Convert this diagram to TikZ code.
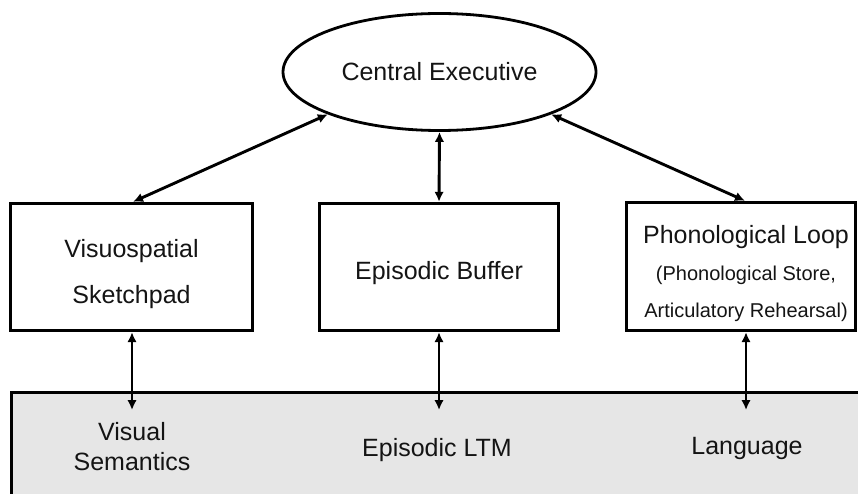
\documentclass[tikz,border=0pt]{standalone}
\usepackage{fontspec}
\setmainfont{Liberation Sans}
\usetikzlibrary{shapes.geometric,arrows.meta}
\definecolor{ltmgray}{RGB}{230,230,230}
\definecolor{inkc}{RGB}{20,20,20}

\begin{document}
\begin{tikzpicture}[x=1pt,y=-1pt,
  big/.style={font=\fontsize{25}{30}\selectfont, text=inkc, inner sep=0pt, anchor=base},
  small/.style={font=\fontsize{20}{24}\selectfont, text=inkc, inner sep=0pt, anchor=base},
  comp/.style={draw, rectangle, line width=3.4pt, inner sep=0pt},
  link/.style={line width=2.9pt, {Latex[length=10pt,width=9.5pt]}-{Latex[length=10pt,width=9.5pt]}}
]
\useasboundingbox (0,0) rectangle (858,494);

% long-term memory band along the bottom edge
\begin{scope}
  \clip (0,0) rectangle (858,494);
  \draw[line width=3.4pt, fill=ltmgray] (11.5,392.5) rectangle (900,560);
\end{scope}

% central executive
\node[draw, ellipse, line width=2.8pt, minimum width=313pt, minimum height=117pt,
      inner sep=0pt] (ce) at (439.5,72) {};
\node[big] (cet) at (439.5,81) {Central Executive};

% the three slave systems
\node[comp, minimum width=242pt, minimum height=127pt] (vs) at (131.5,267) {};
\node[comp, minimum width=239pt, minimum height=127pt] (eb) at (439,267) {};
\node[comp, minimum width=229pt, minimum height=128pt] (pl) at (741,266.5) {};

\node[big] (vs1) at (131.5,257) {Visuospatial};
\node[big] (vs2) at (131.5,303) {Sketchpad};
\node[big] (ebt) at (439,279) {Episodic Buffer};
\node[big] (pl1) at (746,243) {Phonological Loop};
\node[small] (pl2) at (746,280) {(Phonological Store,};
\node[small] (pl3) at (746,317) {Articulatory Rehearsal)};

% long-term stores
\node[big] (ls1) at (132,440) {Visual};
\node[big] (ls2) at (132,470) {Semantics};
\node[big] (lt) at (437,456) {Episodic LTM};
\node[big] (lg) at (747,454) {Language};

\coordinate (vsin) at (132,410);
\coordinate (ebin) at (439,410);
\coordinate (plin) at (746,410);

% links between executive and slave systems
\draw[link] (ce.south west) -- ([xshift=1.5pt]vs.north);
\draw[link] (ce.south) -- (eb.north);
\draw[link] (ce.south east) -- ([xshift=4pt]pl.north);

% links into long-term memory
\draw[link] ([xshift=0.5pt]vs.south) -- (vsin);
\draw[link] (eb.south) -- (ebin);
\draw[link] ([xshift=5pt]pl.south) -- (plin);
\end{tikzpicture}
\end{document}
